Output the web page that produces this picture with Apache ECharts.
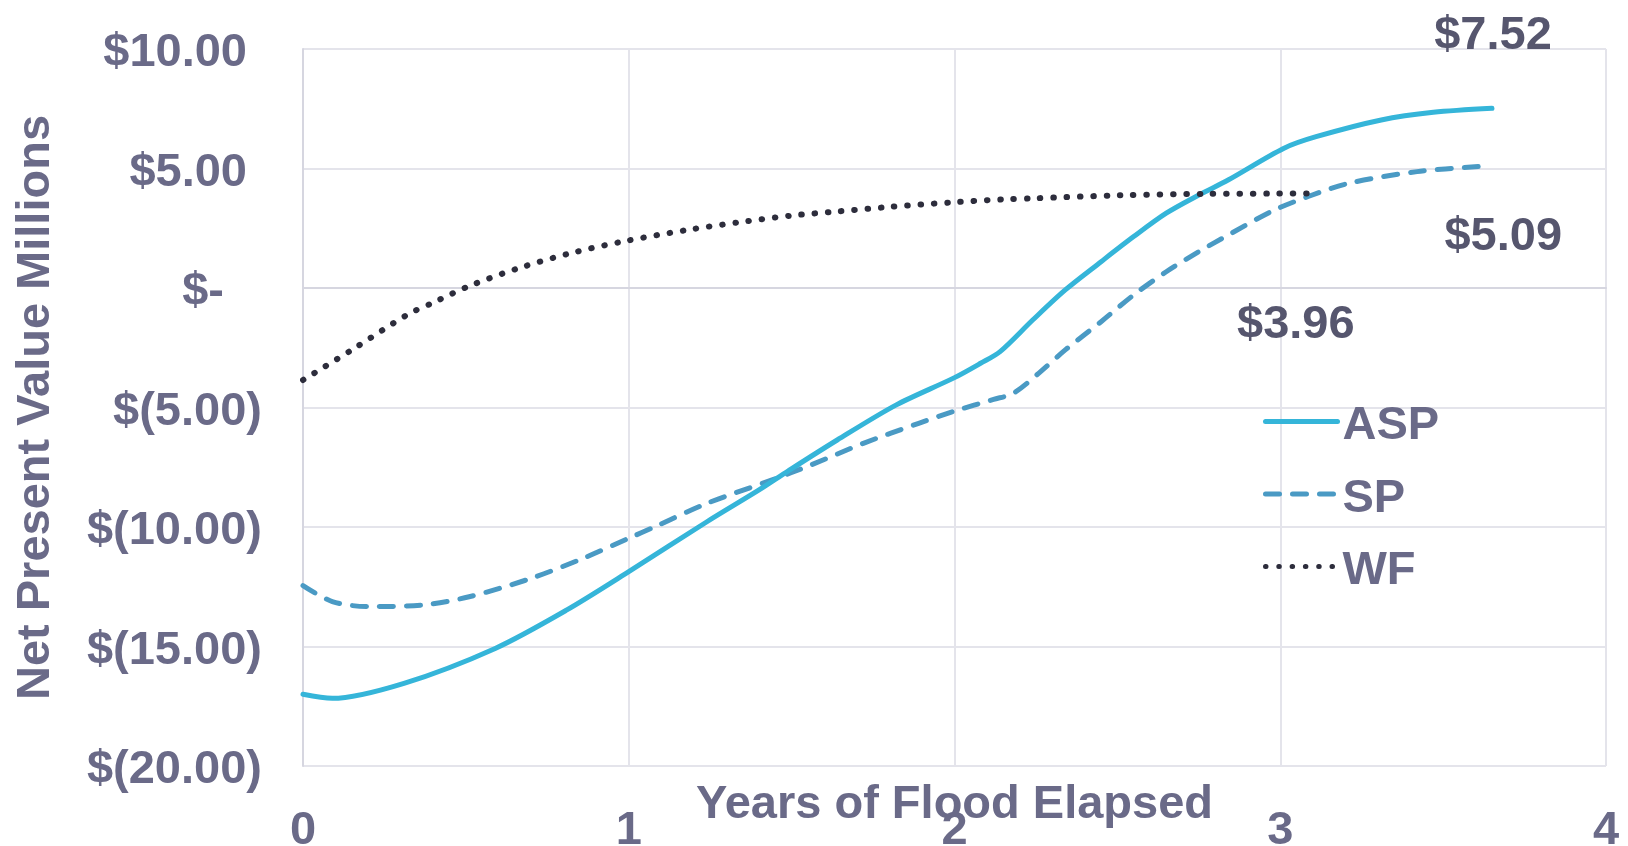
<!DOCTYPE html>
<html>
<head>
<meta charset="utf-8">
<title>Net Present Value vs Years of Flood Elapsed</title>
<script src="https://cdn.jsdelivr.net/npm/echarts@6/dist/echarts.min.js"></script>
<style>
  html, body { margin: 0; padding: 0; background: #ffffff; }
  #chart { width: 1628px; height: 846px; }
</style>
</head>
<body>
<div id="chart"></div>
<script>
// Net present value (millions) by years of flood elapsed, three strategies.
const seriesNames = ['ASP', 'SP', 'WF'];

const aspYears = [0, 0.09, 0.31, 0.59, 0.81, 1.00, 1.24, 1.40, 1.49, 1.64, 1.82, 2.00, 2.08, 2.14, 2.24, 2.34, 2.45, 2.55, 2.65, 2.75, 2.84, 3.01, 3.11, 3.31, 3.47, 3.65];
const aspValues = [-17.0, -17.17, -16.54, -15.08, -13.47, -11.87, -9.78, -8.45, -7.65, -6.36, -4.90, -3.75, -3.15, -2.66, -1.34, -0.08, 1.10, 2.15, 3.13, 3.89, 4.52, 5.84, 6.33, 7.03, 7.35, 7.52];

const spYears = [0, 0.09, 0.20, 0.37, 0.51, 0.70, 0.86, 1.00, 1.08, 1.24, 1.44, 1.56, 1.72, 1.89, 2.00, 2.12, 2.18, 2.26, 2.34, 2.45, 2.55, 2.65, 2.75, 2.85, 2.98, 3.09, 3.21, 3.42, 3.62];
const spValues = [-12.45, -13.12, -13.33, -13.26, -12.92, -12.15, -11.31, -10.47, -9.99, -9.01, -8.03, -7.40, -6.50, -5.66, -5.15, -4.66, -4.41, -3.55, -2.59, -1.41, -0.29, 0.68, 1.52, 2.29, 3.25, 3.85, 4.38, 4.87, 5.09];

const wfYears = [0, 0.15, 0.32, 0.40, 0.51, 0.66, 0.82, 0.98, 1.18, 1.34, 1.50, 1.63, 1.79, 2.00, 2.15, 2.24, 2.51, 2.77, 2.98, 3.10];
const wfValues = [-3.85, -2.59, -1.12, -0.61, 0.08, 0.82, 1.45, 1.94, 2.43, 2.75, 3.03, 3.19, 3.38, 3.59, 3.71, 3.75, 3.88, 3.94, 3.95, 3.96];

const xTickValues = [0, 1, 2, 3, 4];
const yTickValues = [-20, -15, -10, -5, 0, 5, 10];

const axisTextColor = '#6A6A88';
const valueTextColor = '#56566E';
const fontFamily = '"Liberation Sans", Arial, sans-serif';
const bigFont = 47;

// Accounting-style currency text, e.g. $5.00, $(5.00), $-
function currencyTick(v) {
  if (v === 0) return '{z|$-}';
  if (v > 0) return '{p|$' + v.toFixed(2) + '}';
  return '{n|$(' + Math.abs(v).toFixed(2) + ')}';
}

function buildPoints(xs, ys, labelOffset) {
  return xs.map((x, i) => {
    const item = { value: [x, ys[i]] };
    if (i === xs.length - 1) {
      item.label = {
        show: true,
        position: 'inside',
        offset: labelOffset,
        formatter: (p) => '$' + p.value[1].toFixed(2),
        fontFamily: fontFamily,
        fontSize: bigFont,
        fontWeight: 'bold',
        color: valueTextColor,
        align: 'center',
        verticalAlign: 'middle'
      };
    }
    return item;
  });
}

const chart = echarts.init(document.getElementById('chart'), null, { renderer: 'canvas' });

const richBase = { fontFamily: fontFamily, fontSize: bigFont, fontWeight: 'bold', color: axisTextColor };

chart.setOption({
  animation: false,
  backgroundColor: '#ffffff',
  grid: { left: 303, right: 22, top: 49, bottom: 80, containLabel: false, outerBoundsMode: 'none' },
  legend: {
    orient: 'vertical',
    left: 1258,
    top: 388,
    itemWidth: 72,
    itemHeight: 14,
    itemGap: 15.5,
    itemStyle: { opacity: 0 },
    lineStyle: { width: 5, cap: 'round' },
    formatter: (name) => '{t|' + name + '}',
    textStyle: {
      fontFamily: fontFamily,
      fontSize: bigFont,
      fontWeight: 'bold',
      color: axisTextColor,
      rich: {
        t: Object.assign({ lineHeight: 50, padding: [10, 0, 0, 0] }, richBase)
      }
    },
    data: seriesNames
  },
  xAxis: {
    type: 'value',
    min: 0,
    max: 4,
    interval: 1,
    name: 'Years of Flood Elapsed',
    nameLocation: 'middle',
    nameGap: 16,
    nameMoveOverlap: false,
    nameTextStyle: {
      fontFamily: fontFamily,
      fontSize: bigFont,
      fontWeight: 'bold',
      color: axisTextColor
    },
    axisLine: { show: true, lineStyle: { color: '#D6D6E0', width: 2 } },
    axisTick: { show: false },
    axisLabel: {
      margin: 42,
      fontFamily: fontFamily,
      fontSize: bigFont,
      fontWeight: 'bold',
      color: axisTextColor,
      formatter: (v) => (xTickValues.indexOf(v) >= 0 ? String(v) : '')
    },
    splitLine: { show: true, lineStyle: { color: '#E4E4EB', width: 2 } }
  },
  yAxis: {
    type: 'value',
    min: -20,
    max: 10,
    interval: 5,
    name: 'Net Present Value Millions',
    nameLocation: 'middle',
    nameGap: 243,
    nameTextStyle: {
      fontFamily: fontFamily,
      fontSize: bigFont,
      fontWeight: 'bold',
      color: axisTextColor
    },
    axisLine: { show: true, lineStyle: { color: '#D6D6E0', width: 2 } },
    axisTick: { show: false },
    axisLabel: {
      margin: 41,
      fontFamily: fontFamily,
      fontSize: bigFont,
      fontWeight: 'bold',
      color: axisTextColor,
      formatter: (v) => (yTickValues.indexOf(v) >= 0 ? currencyTick(v) : ''),
      rich: {
        p: Object.assign({ padding: [9, 15, 0, 0] }, richBase),
        z: Object.assign({ padding: [9, 38, 0, 0] }, richBase),
        n: Object.assign({ padding: [9, 0, 0, 0] }, richBase)
      }
    },
    splitLine: { show: true, lineStyle: { color: '#E4E4EB', width: 2 } }
  },
  series: [
    {
      name: 'ASP',
      type: 'line',
      smooth: 0.3,
      symbol: 'circle',
      symbolSize: 0,
      showSymbol: true,
      z: 3,
      lineStyle: { color: '#35B5D9', width: 5, type: 'solid', cap: 'round', join: 'round' },
      itemStyle: { color: '#35B5D9' },
      data: buildPoints(aspYears, aspValues, [1, -72])
    },
    {
      name: 'SP',
      type: 'line',
      smooth: 0.3,
      symbol: 'circle',
      symbolSize: 0,
      showSymbol: true,
      z: 2,
      lineStyle: { color: '#4A9AC4', width: 5, type: [14, 13], cap: 'round', join: 'round' },
      itemStyle: { color: '#4A9AC4' },
      data: buildPoints(spYears, spValues, [21, 71])
    },
    {
      name: 'WF',
      type: 'line',
      smooth: 0.3,
      symbol: 'circle',
      symbolSize: 0,
      showSymbol: true,
      z: 4,
      lineStyle: { color: '#2D2D3C', width: 6, type: [0.5, 12.8], cap: 'round', join: 'round' },
      itemStyle: { color: '#2D2D3C' },
      data: buildPoints(wfYears, wfValues, [-17, 132])
    }
  ]
});
</script>
</body>
</html>
